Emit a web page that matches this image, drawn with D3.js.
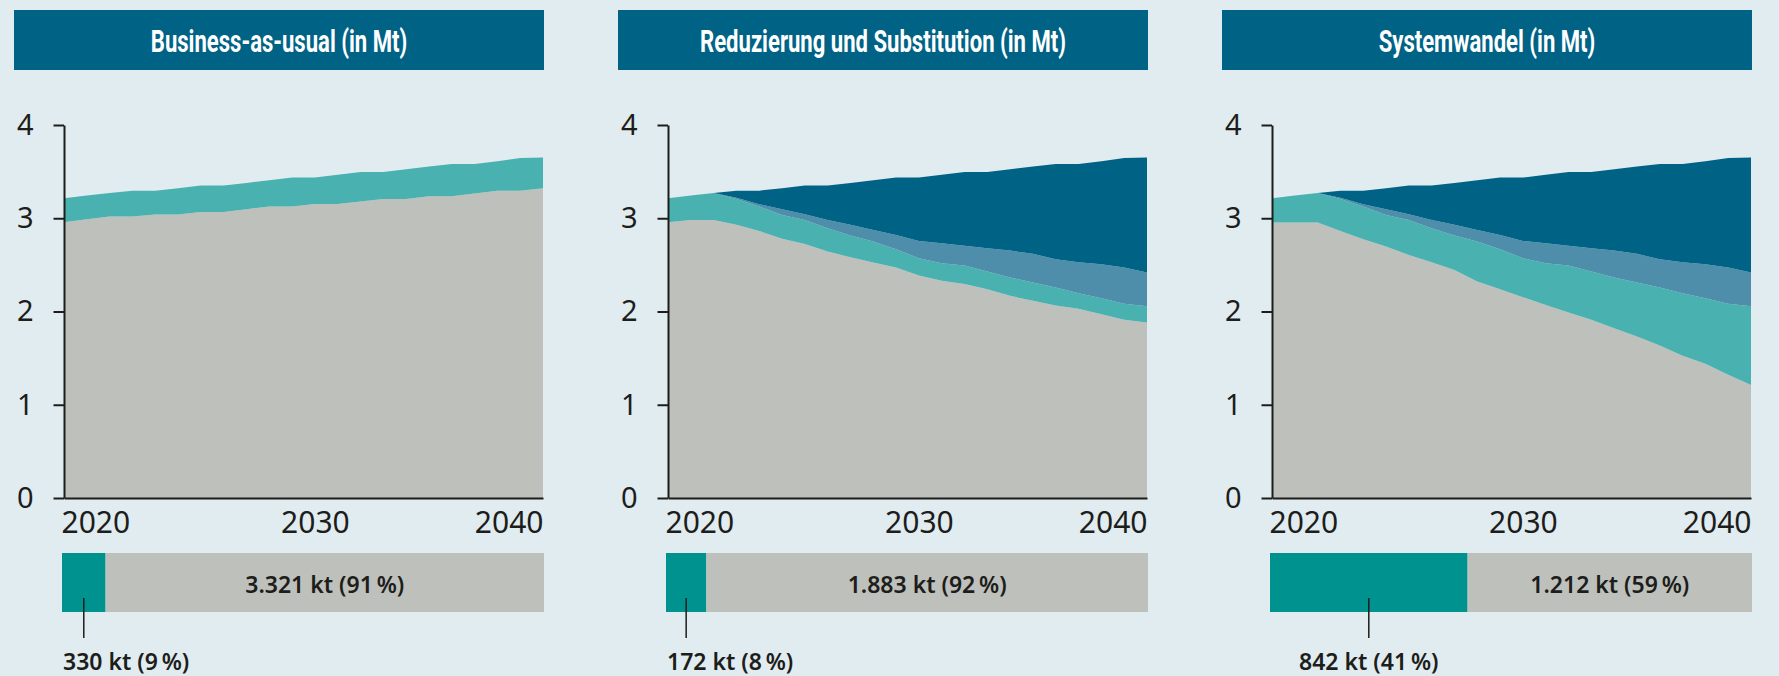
<!DOCTYPE html>
<html lang="de">
<head>
<meta charset="utf-8">
<title>Szenarien</title>
<script src="https://cdn.jsdelivr.net/npm/d3@7"></script>
<style>
  body { margin: 0; background: #e1ecf0; }
  svg { display: block; }
</style>
</head>
<body>
<script>
// Jahre und Achsenbeschriftung
const years = [2019, 2020, 2021, 2022, 2023, 2024, 2025, 2026, 2027, 2028, 2029,
  2030, 2031, 2032, 2033, 2034, 2035, 2036, 2037, 2038, 2039, 2040];
const xTicks = [2020, 2030, 2040];
const yTicks = [0, 1, 2, 3, 4];

const titles = ["Business-as-usual (in Mt)", "Reduzierung und Substitution (in Mt)", "Systemwandel (in Mt)"];

// Business-as-usual (Mt)
const bauPrimaer = [2.957, 2.99, 3.018, 3.018, 3.04, 3.04, 3.068, 3.068, 3.097, 3.125, 3.125,
  3.154, 3.154, 3.18, 3.207, 3.207, 3.236, 3.236, 3.266, 3.296, 3.296, 3.321];
const bauRecycling = [0.257, 0.253, 0.252, 0.278, 0.256, 0.283, 0.282, 0.282, 0.282, 0.282, 0.311,
  0.282, 0.312, 0.316, 0.289, 0.318, 0.318, 0.346, 0.316, 0.315, 0.349, 0.330];

// Reduzierung und Substitution (Mt)
const redPrimaer = [2.957, 2.98, 2.98, 2.93, 2.864, 2.779, 2.725, 2.643, 2.582, 2.525, 2.471,
  2.386, 2.329, 2.296, 2.239, 2.168, 2.114, 2.064, 2.029, 1.971, 1.911, 1.883];
const redRecycling = [0.257, 0.263, 0.29, 0.277, 0.261, 0.257, 0.257, 0.25, 0.232, 0.225, 0.197,
  0.185, 0.189, 0.197, 0.19, 0.196, 0.197, 0.193, 0.167, 0.172, 0.171, 0.172];

// Systemwandel (Mt)
const sysPrimaer = [2.954, 2.954, 2.954, 2.864, 2.775, 2.696, 2.607, 2.529, 2.446, 2.321, 2.239,
  2.154, 2.071, 1.989, 1.911, 1.821, 1.732, 1.636, 1.525, 1.439, 1.321, 1.212];
const sysRecycling = [0.26, 0.289, 0.316, 0.343, 0.35, 0.34, 0.375, 0.364, 0.368, 0.429, 0.429,
  0.417, 0.447, 0.504, 0.518, 0.543, 0.579, 0.621, 0.671, 0.704, 0.761, 0.843];

// in beiden Alternativszenarien gleich
const substitution = [0, 0, 0, 0.013, 0.025, 0.06, 0.061, 0.089, 0.115, 0.125, 0.153,
  0.186, 0.214, 0.211, 0.25, 0.29, 0.307, 0.304, 0.333, 0.364, 0.389, 0.363];
const reduktion = [0, 0, 0, 0.076, 0.146, 0.227, 0.307, 0.368, 0.45, 0.532, 0.615,
  0.679, 0.734, 0.792, 0.817, 0.871, 0.936, 1.021, 1.053, 1.104, 1.174, 1.233];
const zero = [0, 0, 0, 0, 0, 0, 0, 0, 0, 0, 0, 0, 0, 0, 0, 0, 0, 0, 0, 0, 0, 0];

// Balken 2040: [Recycling, Primär] in kt und %
const barKt = [[330, 3321], [172, 1883], [842, 1212]];
const barPct = [[9, 91], [8, 92], [41, 59]];

const scenarios = [
  { primaer: bauPrimaer, recycling: bauRecycling, substitution: zero, reduktion: zero },
  { primaer: redPrimaer, recycling: redRecycling, substitution: substitution, reduktion: reduktion },
  { primaer: sysPrimaer, recycling: sysRecycling, substitution: substitution, reduktion: reduktion }
];

const keys = ["primaer", "recycling", "substitution", "reduktion"];
const colors = { primaer: "#bec0bb", recycling: "#4ab1b1", substitution: "#4e8eaa", reduktion: "#006386" };
const ink = "#1d1d1b";
const font = "'Noto Sans', 'Open Sans', sans-serif";

const de = d3.formatLocale({ decimal: ",", thousands: ".", grouping: [3], currency: ["", " €"] });
const fmt = de.format(",");
const label = (kt, pct) => `${fmt(kt)} kt (${pct}\u202F%)`;

const width = 1779;
const height = 676;

const svg = d3.select("body")
  .append("svg")
  .attr("width", width)
  .attr("height", height);

const y = d3.scaleLinear()
  .domain([0, 4])
  .range([498, 125]);

scenarios.forEach((s, i) => {
  const x0 = 64 + i * 604;
  const x1 = x0 + 479;

  const x = d3.scaleLinear()
    .domain([years[0], years[years.length - 1]])
    .range([x0, x1]);

  const g = svg.append("g");

  // Titelbalken
  g.append("rect")
    .attr("x", x0 - 50)
    .attr("y", 10)
    .attr("width", x1 - x0 + 51)
    .attr("height", 60)
    .attr("fill", "#006386");

  const title = g.append("text")
    .attr("x", (x0 - 50 + x1 + 1) / 2)
    .attr("y", 52)
    .attr("text-anchor", "middle")
    .attr("font-family", "Roboto, sans-serif")
    .attr("font-weight", 700)
    .attr("font-size", 32)
    .attr("fill", "#fff")
    .text(titles[i]);
  const tw = title.node().getComputedTextLength();
  title.attr("textLength", tw * 0.69).attr("lengthAdjust", "spacingAndGlyphs");

  // gestapelte Flächen
  const rows = years.map((yr, j) => ({
    year: yr,
    primaer: s.primaer[j],
    recycling: s.recycling[j],
    substitution: s.substitution[j],
    reduktion: s.reduktion[j]
  }));
  const series = d3.stack().keys(keys)(rows);

  const area = d3.area()
    .x(d => x(d.data.year))
    .y0(d => y(d[0]))
    .y1(d => y(d[1]));

  g.selectAll("path.layer")
    .data(series)
    .join("path")
    .attr("class", "layer")
    .attr("d", area)
    .attr("fill", d => colors[d.key]);

  // Achsen
  const yAxis = g.append("g")
    .attr("transform", `translate(${x0},0)`)
    .call(d3.axisLeft(y).tickValues(yTicks).tickFormat(d3.format("d"))
      .tickSize(10.5).tickSizeOuter(0).tickPadding(20));

  const xAxis = g.append("g")
    .attr("transform", `translate(0,${y(0)})`)
    .call(d3.axisBottom(x).tickValues(xTicks).tickFormat(d3.format("d"))
      .tickSize(0).tickSizeOuter(0).tickPadding(14));

  [yAxis, xAxis].forEach(a => {
    a.attr("font-family", font).attr("font-size", 29).attr("color", ink);
    a.selectAll("path, line").attr("stroke-width", 2);
  });
  xAxis.attr("font-size", 30);

  xAxis.selectAll(".tick text")
    .attr("text-anchor", (d, k, n) => k === 0 ? "start" : (k === n.length - 1 ? "end" : "middle"))
    .attr("x", d => d === xTicks[0] ? x(years[0]) - x(d) - 3 : (d === xTicks[xTicks.length - 1] ? x1 - x(d) : 0));

  // Anteilsbalken 2040
  const [kRec, kPri] = barKt[i];
  const [pRec, pPri] = barPct[i];
  const bx = d3.scaleLinear()
    .domain([0, kRec + kPri])
    .range([x0 - 2, x1 + 1]);

  g.append("rect")
    .attr("x", bx(0))
    .attr("y", 553)
    .attr("width", bx(kRec) - bx(0))
    .attr("height", 59)
    .attr("fill", "#00928f");

  g.append("rect")
    .attr("x", bx(kRec))
    .attr("y", 553)
    .attr("width", bx(kRec + kPri) - bx(kRec))
    .attr("height", 59)
    .attr("fill", "#bec0bb");

  g.append("text")
    .attr("x", (bx(kRec) + bx(kRec + kPri)) / 2)
    .attr("y", 593)
    .attr("text-anchor", "middle")
    .attr("font-family", font)
    .attr("font-weight", 600)
    .attr("font-size", 23)
    .attr("fill", ink)
    .text(label(kPri, pPri));

  const cx = (bx(0) + bx(kRec)) / 2;
  g.append("line")
    .attr("x1", cx)
    .attr("x2", cx)
    .attr("y1", 598)
    .attr("y2", 638)
    .attr("stroke", ink)
    .attr("stroke-width", 1.5);

  const low = g.append("text")
    .attr("x", cx)
    .attr("y", 670)
    .attr("text-anchor", "middle")
    .attr("font-family", font)
    .attr("font-weight", 600)
    .attr("font-size", 23)
    .attr("fill", ink)
    .text(label(kRec, pRec));
  const lw = low.node().getComputedTextLength();
  if (cx - lw / 2 < bx(0)) {
    low.attr("x", bx(0) + 1).attr("text-anchor", "start");
  }
});
</script>
</body>
</html>
